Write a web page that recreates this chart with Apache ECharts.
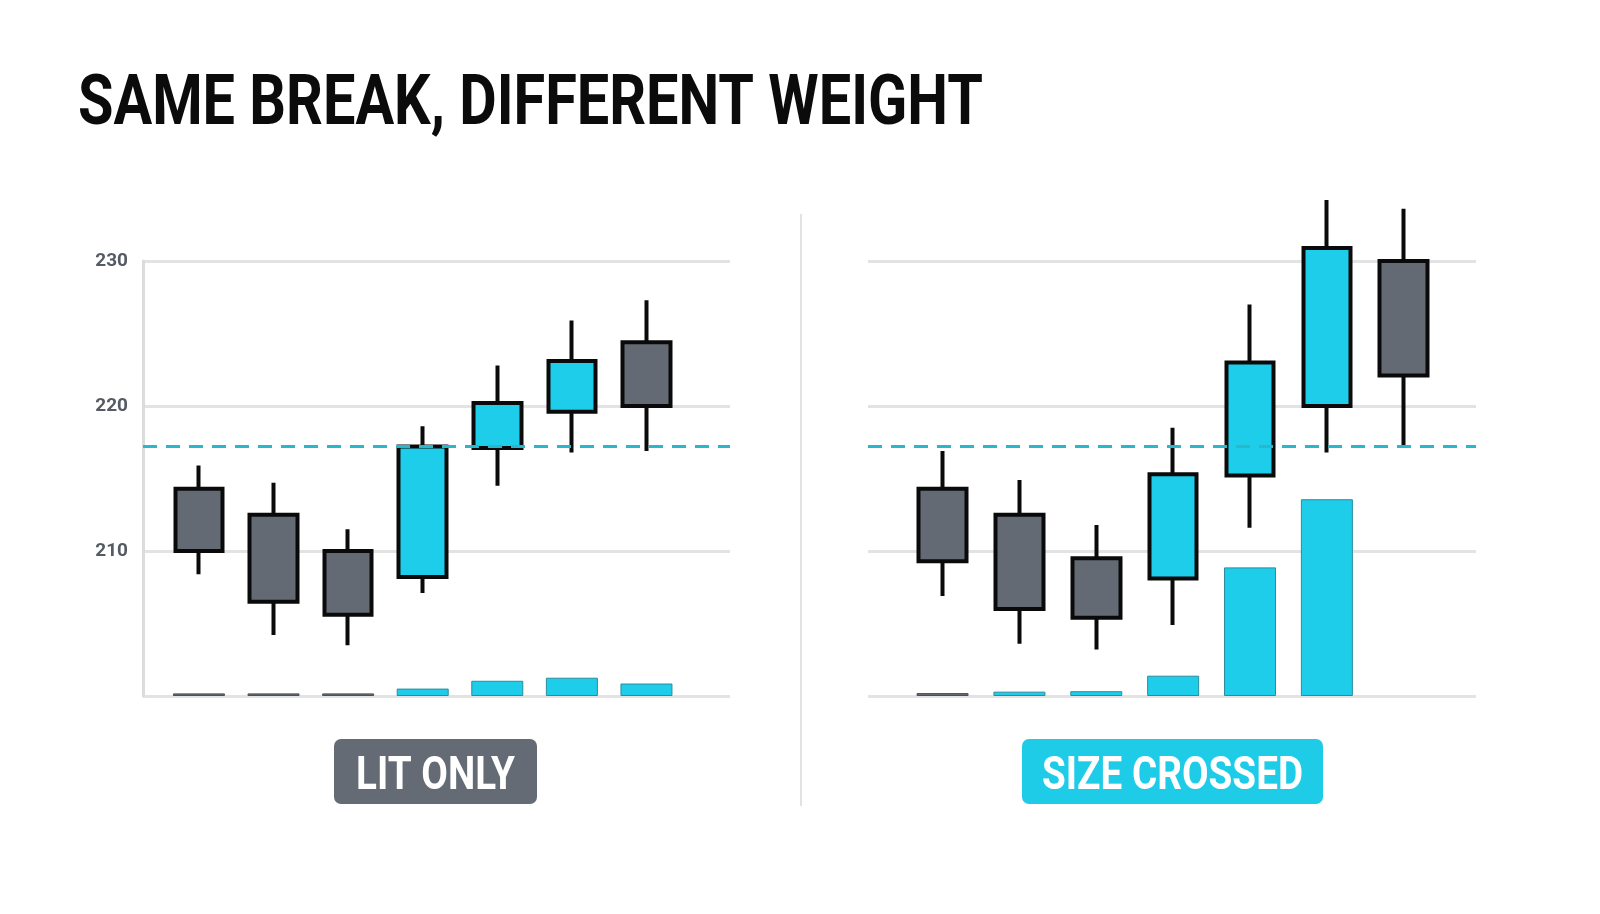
<!DOCTYPE html>
<html>
<head>
<meta charset="utf-8">
<title>Same break, different weight</title>
<script src="https://cdn.jsdelivr.net/npm/echarts@6/dist/echarts.min.js"></script>
<style>
  html, body { margin: 0; padding: 0; background: #ffffff; }
  #chart { width: 1600px; height: 914px; }
</style>
</head>
<body>
<div id="chart"></div>
<script>
// session index (x position of each candle)
var days = [0, 1, 2, 3, 4, 5, 6]
// price ticks
var priceTicks = [200, 210, 220, 230]
// breakout level (dashed)
var breakLevel = 217.2

// [open, close, low, high]
var litOhlc = [
  [214.3, 210.0, 208.4, 215.9],
  [212.5, 206.5, 204.2, 214.7],
  [210.0, 205.6, 203.5, 211.5],
  [208.2, 217.2, 207.1, 218.6],
  [217.1, 220.2, 214.5, 222.8],
  [219.6, 223.1, 216.8, 225.9],
  [224.4, 220.0, 216.9, 227.3]
]
var sizeOhlc = [
  [214.3, 209.3, 206.9, 216.9],
  [212.5, 206.0, 203.6, 214.9],
  [209.5, 205.4, 203.2, 211.8],
  [208.1, 215.3, 204.9, 218.5],
  [215.2, 223.0, 211.6, 227.0],
  [220.0, 230.9, 216.8, 234.2],
  [230.0, 222.1, 217.3, 233.6]
]

// volume, and whether it printed on the buy side (1) or not (0)
var litVolume = [1.8, 1.8, 1.8, 5.1, 10.5, 12.6, 8.6]
var litVolSide = [0, 0, 0, 1, 1, 1, 1]
var sizeVolume = [2.0, 3.0, 3.3, 14.0, 88.7, 135.7, null]
var sizeVolSide = [0, 1, 1, 1, 1, 1, 1]

var CYAN = "#1ecde9"
var GRAY = "#646a73"

function candles(ohlc) {
  return days.map(function (d, i) { return [d].concat(ohlc[i]) })
}
function volumes(vol, side) {
  return days.map(function (d, i) {
    if (vol[i] == null) return [d, "-"]
    return {
      value: [d, vol[i]],
      itemStyle: side[i]
        ? { color: CYAN, borderColor: "#2a8c9c", borderWidth: 1 }
        : { color: GRAY, borderColor: "#4b5058", borderWidth: 1 }
    }
  })
}

function priceAxis(gridIndex, showLabels) {
  return {
    type: "value",
    gridIndex: gridIndex,
    min: priceTicks[0],
    max: priceTicks[priceTicks.length - 1],
    interval: 10,
    axisLine: { show: showLabels, onZero: false, lineStyle: { color: "#dcdcdc", width: 3 } },
    axisTick: { show: false },
    axisLabel: {
      show: showLabels,
      margin: 15,
      color: "#555b63",
      fontFamily: "Roboto",
      fontWeight: "bold",
      fontSize: 19,
      formatter: function (v) { return v === 200 ? "" : String(v) }
    },
    splitLine: { show: true, lineStyle: { color: "#e3e3e3", width: 3 } }
  }
}
function volumeAxis(gridIndex) {
  return { type: "value", gridIndex: gridIndex, min: 0, max: 300, show: false, splitLine: { show: false } }
}

var breakLine = {
  symbol: ["none", "none"],
  silent: true,
  label: { show: false },
  lineStyle: { color: "#2ab6cb", width: 3, type: [14, 9] },
  data: [{ yAxis: breakLevel }]
}

function candleSeries(xi, yi, ohlc, clip) {
  return {
    type: "candlestick",
    xAxisIndex: xi,
    yAxisIndex: yi,
    barWidth: 48,
    clip: clip,
    z: 3,
    data: candles(ohlc),
    itemStyle: {
      color: CYAN,
      color0: GRAY,
      borderColor: "#0a0a0a",
      borderColor0: "#0a0a0a",
      borderWidth: 4
    },
    markLine: breakLine
  }
}
function volumeSeries(xi, yi, vol, side) {
  return {
    type: "bar",
    xAxisIndex: xi,
    yAxisIndex: yi,
    barWidth: 52,
    z: 2,
    data: volumes(vol, side)
  }
}

function badge(cx, x0, x1, text, fill) {
  return [
    {
      type: "rect",
      shape: { x: x0, y: 739, width: x1 - x0, height: 65, r: 7 },
      style: { fill: fill }
    },
    {
      type: "text",
      x: cx,
      y: 777,
      scaleX: 0.84,
      style: {
        text: text,
        fill: "#ffffff",
        font: "bold 46px Roboto",
        align: "center",
        verticalAlign: "middle"
      }
    }
  ]
}

var chart = echarts.init(document.getElementById("chart"))
var options = {
  backgroundColor: "#ffffff",
  animation: false,
  grid: [
    { left: 143, top: 261, width: 587, height: 435 },
    { left: 868, top: 261, width: 608, height: 435 }
  ],
  xAxis: [
    { type: "value", gridIndex: 0, min: -0.75, max: 7.12, show: false, splitLine: { show: false } },
    { type: "value", gridIndex: 1, min: -0.97, max: 6.94, show: false, splitLine: { show: false } }
  ],
  yAxis: [priceAxis(0, true), volumeAxis(0), priceAxis(1, false), volumeAxis(1)],
  series: [
    volumeSeries(0, 1, litVolume, litVolSide),
    candleSeries(0, 0, litOhlc, true),
    volumeSeries(1, 3, sizeVolume, sizeVolSide),
    candleSeries(1, 2, sizeOhlc, false)
  ],
  graphic: [
    {
      type: "text",
      x: 78,
      y: 71,
      scaleX: 0.823,
      style: {
        text: "SAME BREAK, DIFFERENT WEIGHT",
        fill: "#0b0b0b",
        font: "bold 70px Roboto",
        align: "left",
        verticalAlign: "top"
      }
    },
    {
      type: "line",
      shape: { x1: 801, y1: 214, x2: 801, y2: 806 },
      style: { stroke: "#e2e2e2", lineWidth: 2 }
    }
  ]
    .concat(badge(435.5, 334, 537, "LIT ONLY", "#646b74"))
    .concat(badge(1172.5, 1022, 1323, "SIZE CROSSED", "#1fcce8"))
}
chart.setOption(options)
window.addEventListener("resize", function () {
  chart.resize()
})
</script>
</body>
</html>
